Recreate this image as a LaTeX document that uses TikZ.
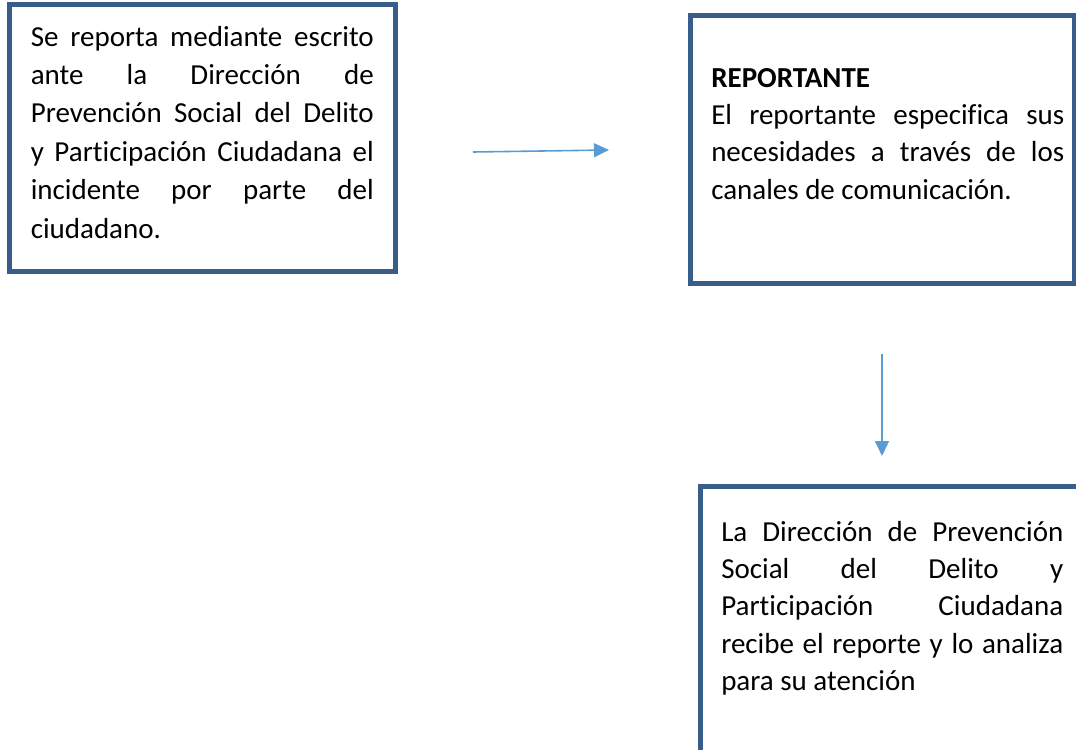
\documentclass[tikz,border=0pt]{standalone}
\usepackage{fontspec}
\setmainfont{Carlito}[Ligatures=NoCommon]
\usepackage{tikz}
\usetikzlibrary{arrows.meta,positioning}

\definecolor{marcoazul}{RGB}{56,93,138}
\definecolor{flechaazul}{RGB}{91,155,213}

\begin{document}
\begin{tikzpicture}[
        x=0.75pt,
        y=-0.75pt,
        marco/.style={line width=3.75pt, draw=marcoazul},
        texto/.style={anchor=base west, inner sep=0pt, align=justify,
            font=\fontsize{21.75pt}{28pt}\selectfont,
            execute at begin node={\tolerance=10000\hbadness=10000\hyphenpenalty=10000}},
        flecha/.style={-{Triangle[length=11.25pt, width=10.5pt]}, line width=1.2pt, draw=flechaazul}
    ]
        \useasboundingbox (0,0) rectangle (1076,750);
        \clip (0,0) rectangle (1076,750);

        % Marcos de las tres cajas
        \draw[marco] (9.5,4.5) rectangle (395.5,271.5);
        \draw[marco] (690,15.5) rectangle (1074,283);
        \draw[marco] (700,486) rectangle (1090,800);

        % Textos
        \node[texto, text width=257.25pt, font=\fontsize{21.75pt}{28.8pt}\selectfont] (reporte) at (30.5,46)
        {Se reporta mediante escrito\linebreak
        ante la Dirección de\linebreak
        Prevención Social del Delito\linebreak
        y Participación Ciudadana el\linebreak
        incidente por parte del\linebreak
        ciudadano.};

        \node[texto, text width=264.75pt] (reportante) at (711,87.3)
        {\textbf{REPORTANTE}\newline
        El reportante especifica sus\linebreak
        necesidades a través de los\linebreak
        canales de comunicación.};

        \node[texto, text width=256.5pt] (direccion) at (721,541)
        {La Dirección de Prevención\linebreak
        Social del Delito y\linebreak
        Participación Ciudadana\linebreak
        recibe el reporte y lo analiza\linebreak
        para su atención};

        % Flechas
        \coordinate (f1a) at (473,152);
        \coordinate (f1b) at (609,150);
        \coordinate (f2a) at (882,354);
        \coordinate (f2b) at (882,456);
        \draw[flecha] (f1a) -- (f1b);
        \draw[flecha] (f2a) -- (f2b);
    \end{tikzpicture}
\end{document}
